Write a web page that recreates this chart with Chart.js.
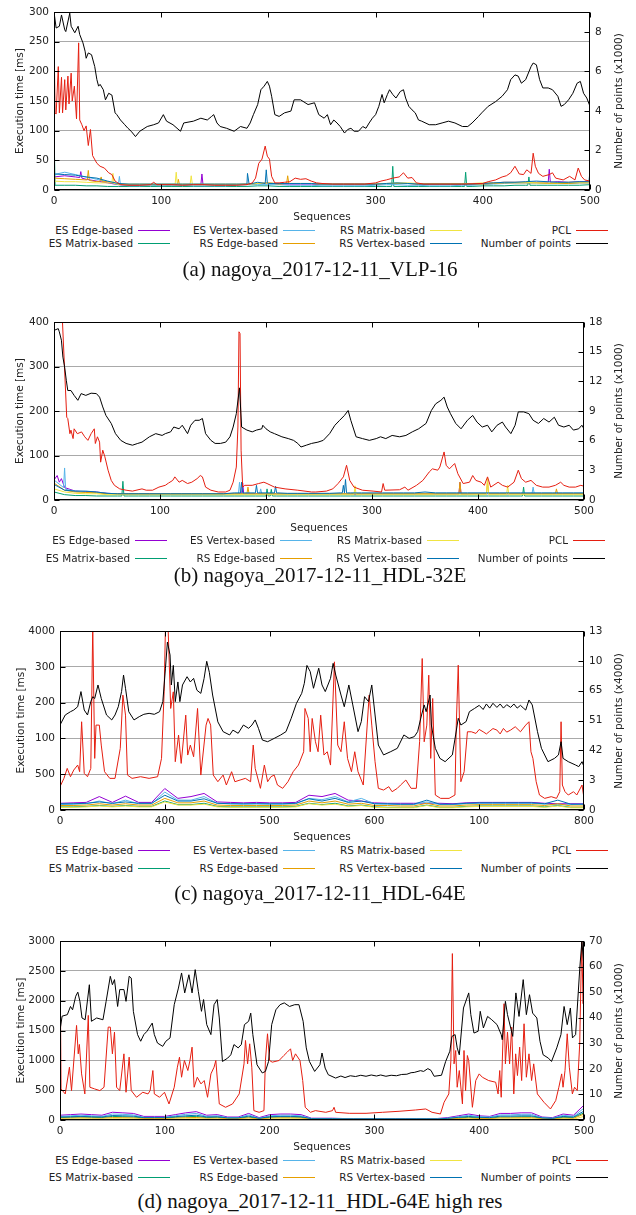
<!DOCTYPE html>
<html>
<head>
<meta charset="utf-8">
<script src="https://cdn.jsdelivr.net/npm/chart.js@4.4.1/dist/chart.umd.min.js"></script>
<style>
  html,body{margin:0;padding:0;background:#fff;}
  body{width:636px;height:1215px;position:relative;overflow:hidden;font-family:"DejaVu Sans",sans-serif;}
  canvas{position:absolute;left:0;}
  .lt{position:absolute;font-size:10.4px;line-height:12px;color:#222;white-space:nowrap;text-align:right;}
  .ls{position:absolute;height:0;width:32px;}
  .cap{position:absolute;left:0;width:640px;text-align:center;font-family:"Liberation Serif",serif;font-size:21px;line-height:24px;color:#111;white-space:nowrap;}
  .rt{position:absolute;font-size:10.5px;line-height:13px;white-space:nowrap;color:#222;transform:translate(-50%,-50%) rotate(-90deg);}
</style>
</head>
<body>
<canvas id="ca" width="636" height="224" style="top:0px"></canvas>
<canvas id="cb" width="636" height="225" style="top:310px"></canvas>
<canvas id="cc" width="636" height="225" style="top:619px"></canvas>
<canvas id="cd" width="636" height="225" style="top:929px"></canvas>
<div id="overlay"></div>
<script>
// ---------------- shared categories ----------------
const seq10 = Array.from({length:51}, (_, i) => i * 10);
const seq20 = Array.from({length:41}, (_, i) => i * 20);

const seriesNames = ['ES Edge-based','ES Matrix-based','ES Vertex-based','RS Edge-based','RS Matrix-based','RS Vertex-based','PCL','Number of points'];

// ---------------- (a) VLP-16 ----------------
const aXTicks = [0,100,200,300,400,500];
const aYTicks = [0,50,100,150,200,250,300];
const aY2Ticks = [0,2,4,6,8];
const aPtsSeq = [0,2,5,7,10,11,14.7,16,19.4,22.5,24,27,29,30,32,35,38,40,41.6,43,46,48,51,54,57,58.6,62,66,69,72,76,80,87,93,97.5,102,105,111,118,121,130,137,143,147,149,152,155,161,168,174,180,183,186,190,193,196,199,201,203,206,210,215,221,224,230,237,243,247,252,255,258,261,264,267,271,274,277,280,284,288,291,294,297,300,303,306,308,311,313,316,319,323,326,328,331,334,337,340,343,350,356,362,368,374,381,386,390,396,399,405,412,418,423,426,430,433,436,440,445,447,450,453,456,461,465,470,473,476,480,484,488,491,494,497,500];
const aPts = [9.00,8.19,8.28,8.85,8.10,8.01,8.94,8.28,7.95,8.28,7.86,7.44,7.02,6.66,6.93,6.84,6.24,5.58,5.25,5.34,5.07,4.56,4.89,4.80,3.90,3.81,3.54,3.30,3.12,2.97,2.70,2.97,3.21,3.30,3.39,3.81,3.48,3.30,2.97,3.39,3.48,3.63,3.54,3.72,3.81,3.39,3.21,3.12,2.97,3.21,3.12,3.39,3.81,4.32,5.07,5.25,5.49,5.25,4.74,3.81,3.72,3.90,3.99,4.56,4.56,4.32,4.41,3.81,3.63,3.81,3.30,3.54,3.39,3.21,2.88,3.06,3.12,2.97,2.97,3.21,3.12,3.39,3.63,3.81,4.23,4.83,4.41,4.83,5.07,4.83,4.65,4.98,5.07,4.65,4.23,4.05,3.90,3.54,3.48,3.30,3.30,3.39,3.48,3.39,3.21,3.21,3.39,3.72,3.90,4.23,4.47,4.74,5.07,5.58,5.82,5.76,5.40,5.58,6.24,6.42,6.33,5.58,5.16,5.16,5.07,4.74,4.23,4.32,4.56,4.89,5.40,5.49,4.89,4.65,4.23];
const aPclSeq = [0,1,2,4,5,7,8,10,11,13,14,16,17,19,21,23,24,26,28,30,32,34,36,40,43,47,51,54,57,62,70,80,90,93,96,100,110,120,130,140,150,160,170,180,185,188,191,194,197,199,201,203,206,210,215,220,225,230,235,240,245,250,260,270,280,290,300,305,310,316,322,326,330,334,338,345,360,380,400,405,412,418,422,426,430,434,438,441,445,447,449,452,456,462,465,468,475,481,486,489,492,495,500];
const aPcl = [265,130,128,208,130,190,130,186,135,192,145,197,150,175,120,248,118,110,100,108,75,102,58,45,40,37,29,26,15,9,8,8,9,13,9,9,9,8,9,9,8,8,8,9,12,20,45,52,74,57,52,23,12,12,13,14,20,18,19,15,12,11,10,10,10,10,12,15,17,20,22,29,20,21,12,10,10,10,11,14,17,22,24,29,40,27,26,34,28,62,40,28,23,26,29,20,17,23,17,37,23,17,15];
// minor series: baseline every 10 sequences + narrow spikes
const aEsEdge = [22,24,22,18,15,12,9,8,8,9, 9,9,9,9,9,9,9,9,10,11, 12,10,10,10,10,9,9,9,9,9, 10,11,11,11,10,10,10,10,10,10, 11,12,13,13,13,13,13,14,13,14, 14];
const aEsEdgeSpkSeq = [24,25,26,137,138,139,461,462,463];
const aEsEdgeSpk = [21,31,20,9,27,9,13,35,13];
const aEsVertex = [26,30,26,22,18,14,9,7,7,8, 7,8,8,7,7,7,7,8,9,9, 9,9,8,8,8,7,7,7,7,7, 8,9,9,8,8,7,7,7,8,8, 9,10,11,12,12,12,11,11,11,12, 12];
const aEsVertexSpkSeq = [61,62];
const aEsVertexSpk = [23,9];
const aRsMatrix = [15,14,14,13,12,12,10,10,10,10, 10,10,10,10,10,10,10,10,10,11, 12,11,11,11,11,10,10,10,10,10, 11,11,12,12,11,11,11,11,11,11, 12,12,13,13,13,12,12,12,13,13, 13];
const aRsMatrixSpkSeq = [54,55,56,113,114,115,127,128,129];
const aRsMatrixSpk = [12,28,11,10,30,10,10,24,10];
const aEsMatrix = [100,8,8,7,7,6,6,6,6,6, 6,6,6,6,6,6,6,6,6,7, 7,6,6,6,6,6,6,6,6,6, 6,6,6,6,6,6,6,6,6,6, 7,7,7,8,8,8,8,8,8,8, 9];
const aEsMatrixSpkSeq = [1,315,316,317,383,384,385,442,443,444];
const aEsMatrixSpk = [8,6,40,6,6,30,6,8,22,8];
const aRsEdge = [20,19,18,17,14,14,10,9,9,9, 9,9,9,9,9,9,9,9,10,11, 12,10,11,11,11,10,10,10,10,10, 10,11,11,11,10,10,10,10,10,10, 10,11,12,12,12,12,11,11,11,12, 12];
const aRsEdgeSpkSeq = [31,32,33,43,44,45,115,116,117,217,218,219];
const aRsEdgeSpk = [17,33,16,15,22,14,9,18,9,11,24,11];
const aRsVertex = [27,26,25,22,20,15,11,10,10,10, 10,10,10,10,10,10,10,10,10,13, 11,11,11,11,11,10,10,10,10,10, 10,11,12,11,10,10,10,10,10,10, 11,12,13,13,14,15,14,13,13,14, 32];
const aRsVertexSpkSeq = [179,180.5,182,197,198,199,499];
const aRsVertexSpk = [10,28,10,11,34,12,14];

// ---------------- (b) HDL-32E ----------------
const bXTicks = [0,100,200,300,400,500];
const bYTicks = [0,100,200,300,400];
const bY2Ticks = [0,3,6,9,12,15,18];
const bPtsSeq = [0,4,5,7,8.4,10,11.6,13,16,19,22.5,25.6,30,35,40,43,46,49,54,58,63,68,74,79,83,90,96,102,105,110,113,118,121,126,129,133,137,140,143,148,152,157,162,166,169,172,175,177,182,187,191,196,197,200,204,208,215,221,226,230,233,238,243,249,254,260,265,269.5,274,277.5,280,285,291,297.5,304,308,313,319,326,332,338,344,351,356,360,365,368,371,374,379,384,390,395,399,404,409,413,418,423,426,431,435,438,443,448,452,457,462,467,472,476,481,486,490,495,498,500];
const bPts = [17.15,17.33,17.01,16.16,14.45,13.46,12.11,11.07,11.07,10.58,10.08,10.76,10.58,10.80,10.76,10.40,9.41,8.55,7.74,6.71,6.03,5.72,5.54,5.72,5.85,6.39,6.71,6.53,6.71,6.89,7.38,7.20,7.56,6.71,7.56,8.06,8.06,8.24,6.71,6.03,5.72,5.72,5.85,6.39,7.38,8.73,11.34,7.38,7.07,6.89,7.07,7.20,7.56,7.20,6.89,6.71,6.39,6.21,6.03,5.72,5.36,5.54,5.72,5.85,6.03,6.71,7.56,8.06,8.55,9.05,8.06,6.39,6.21,6.03,6.21,6.39,6.21,6.53,6.39,6.53,6.89,7.20,7.74,9.05,9.72,10.08,10.40,9.41,8.73,7.74,7.20,8.06,8.55,7.88,7.38,7.56,6.89,7.56,7.88,7.38,6.71,7.56,8.91,8.91,8.73,8.06,7.74,8.24,7.88,8.37,7.56,7.38,7.56,7.07,7.20,7.56,7.20];
const bPclSeq = [0,5,8,12,13,15,16,18,19,22,26,29,32,35,38,39,41,43,44,46,48,51,54,57,62,68,74,83,87,93,99,105,108,112,114,118,121,126,130,135,138,140,143,148,155,162,166,169,172,173.5,174.5,175.5,176.5,178,180,187,193,198,201,208,218,230,243,247,257,263,268,273,276,279,283,291,301,309,310.5,312,326,331,334,342,348,354,357,362,364,368,370,373,378,381,386,392,395,398,403,406,409,412,419,423,428,434,438,441,445,450,455,461,467,473,478,481,486,492,497,500];
const bPcl = [600,600,400,186,183,149,157,138,160,149,153,142,134,149,160,127,142,130,85,112,97,67,44,33,25,22,20,25,22,22,29,33,38,44,52,40,44,37,40,48,55,52,29,22,18,18,22,40,74,164,378,374,112,29,33,33,37,40,37,29,25,22,18,18,20,25,37,52,78,44,29,22,20,18,37,22,23,29,22,33,44,63,70,67,74,108,78,70,82,59,37,40,55,44,40,33,52,29,40,33,29,40,67,48,40,44,33,29,29,33,40,33,29,29,33,31];
const bEsEdge = [45,28,20,19,18,15,14,13,13,13, 13,13,13,13,13,13,13,14,14,14, 13,13,13,13,13,13,13,13,13,13, 13,13,13,13,13,13,13,13,13,13, 14,14,14,14,14,14,14,14,14,14, 14];
const bEsEdgeSpkSeq = [3,5,7,177,178,179,382,383,384];
const bEsEdgeSpk = [55,40,48,14,38,14,13,40,13];
const bEsVertex = [45,72,20,18,17,15,14,14,14,14, 14,14,14,14,14,14,14,14,14,13, 14,14,14,14,14,14,14,14,14,14, 14,14,14,14,14,15,15,15,15,15, 15,15,15,15,15,15,15,15,15,15, 15];
const bEsVertexSpkSeq = [9,11,174,175,176,194,195,196,451,452,453];
const bEsVertexSpk = [28,24,14,40,14,14,25,14,15,29,15];
const bRsMatrix = [25,18,15,14,14,12,12,12,12,12, 12,12,12,12,12,12,12,12,12,12, 12,12,12,12,12,12,12,12,12,12, 12,12,12,12,12,12,12,12,12,12, 12,12,12,12,12,12,12,12,12,12, 12];
const bRsMatrixSpkSeq = [283,284,285,408,409,427,428,429];
const bRsMatrixSpk = [12,32,12,12,50,12,33,12];
const bEsMatrix = [18,12,10,10,9,9,9,9,9,9, 9,9,9,9,9,9,9,9,9,9, 9,9,9,9,9,9,9,9,9,9, 9,9,9,9,9,9,9,9,9,9, 9,9,9,9,9,9,9,9,9,9, 9];
const bEsMatrixSpkSeq = [64,65,66,201,202,204,205,206,442,443,444];
const bEsMatrixSpk = [9,42,9,25,9,9,24,9,9,29,9];
const bRsEdge = [38,22,18,17,16,14,14,14,14,14, 14,14,14,14,14,14,14,14,14,14, 14,14,14,14,14,14,14,14,14,14, 14,14,14,14,14,14,14,14,14,14, 14,14,14,14,14,14,14,14,14,14, 14];
const bRsEdgeSpkSeq = [182,183,184,382,383,384,408,409,473,474,475];
const bRsEdgeSpk = [14,29,14,14,40,14,14,44,14,25,14];
const bRsVertex = [35,22,20,20,18,15,14,14,14,14, 14,14,14,14,14,14,14,16,16,16, 16,16,15,15,15,15,15,16,16,16, 16,16,16,16,16,18,16,16,16,16, 16,16,16,16,16,16,16,16,16,16, 16];
const bRsVertexSpkSeq = [176,177,178,189,191,192,208,209,211,272,273,274,275,276,277];
const bRsVertexSpk = [16,40,16,16,33,16,16,31,16,16,33,16,46,16,16];

// ---------------- (c) HDL-64E (tick labels as printed) ----------------
const cXTicks = [0,160,320,480,640,800];
const cXLabels = ['0','400','500','600','100','800'];
const cYTicks = [0,800,1600,2400,3200,4000];
const cYLabels = ['0','500','100','200','300','4000'];
const cY2Ticks = [0,13/6,26/6,39/6,52/6,65/6,13];
const cY2Labels = ['0','3','42','51','65','10','13'];
const cPtsSeq = [0,8,16,21,27,32,37,42,47,50,53,58,63,71,79,84,89,94,97,100,105,113,121,128,136,144,152,157,161,164,168,170,173,176,180,183,187,194,199,204,209,215,220,224,228,233,241,249,259,264,272,280,288,293,298,303,309,317,327,337,345,353,361,369,373,377,382,387,395,400,405,413,417,421,429,434,441,447,455,460,465,471,476,481,486,494,505,515,525,533,541,546,552,556,559,565,567,573,580,588,599,604,608,612,620,625,633,640,646,651,656,661,667,672,677,682,688,693,698,703,708,711,716,721,729,735,745,755,761,765,768,776,787,792,797,800];
const cPts = [6.17,6.9,7.14,7.26,7.5,8.6,7.26,6.9,7.87,8.23,8.1,9.08,8.1,6.9,6.54,6.9,7.5,8.6,9.8,8.84,7.14,6.54,6.78,6.95,7.02,6.95,7.14,7.87,10.3,12.2,11.26,9.08,10.5,7.87,9.3,7.87,9.08,9.68,9.3,9.56,8.7,8.47,9.56,10.8,10.0,8.35,6.4,5.69,5.45,5.8,5.57,6.17,5.93,6.17,6.54,5.93,5.08,4.96,5.2,5.45,5.69,6.66,7.75,8.47,9.2,10.5,10.05,8.84,10.3,9.08,8.6,9.56,10.65,9.8,8.35,7.5,9.08,7.63,5.69,6.42,8.23,7.87,9.08,6.9,4.72,4.0,4.24,4.48,5.45,5.2,5.33,5.69,6.9,7.63,7.14,8.35,6.17,4.48,3.75,3.51,4.0,5.45,6.66,6.17,6.42,7.14,7.38,7.6,7.3,7.7,7.4,7.75,7.45,7.7,7.4,7.65,7.45,7.7,7.4,7.6,7.38,7.26,7.99,7.63,5.69,4.48,3.51,3.75,4.0,4.96,3.75,3.51,3.27,3.15,3.51,3.15];
const cPclSeq = [0,6,11,16,21,27,30,33,37,42,47,50,53,55,60,63,68,76,84,92,96,100,103,110,123,136,149,155,159,161,165,169,173,176,181,185,192,195,199,204,210,215,223,226,230,234,241,249,254,262,267,275,283,291,295,298,306,312,317,322,327,332,340,348,356,364,372,374,379,382,385,390,394,398,403,408,413,419,424,429,434,439,445,450,455,463,468,472,476,481,486,494,502,507,515,520,528,536,544,549,553,556,560,563,566,569,573,581,594,603,605,608,610,612,617,622,628,635,640,646,651,656,661,667,672,677,682,688,695,703,711,716,719,722,727,732,740,750,758,763,765,767,771,776,784,789,797,800];
const cPcl = [521,707,930,744,893,1004,856,1972,818,744,930,4100,1153,1897,1897,1451,856,707,707,1376,2567,2120,781,707,744,707,744,1153,2641,4100,4100,2269,2641,1079,1674,1041,2120,1228,1451,1190,2269,781,1897,2046,1897,781,632,781,558,856,632,670,707,632,1451,930,484,1004,632,744,781,558,484,632,856,1004,1302,2269,2046,1302,2046,1525,1302,2120,1228,1302,1004,3311,1451,1302,1972,1153,856,1302,856,558,1674,2567,1897,1079,484,446,521,409,484,558,670,484,484,1525,3385,1525,1897,3013,1153,2492,335,260,260,335,1897,3236,1897,632,856,1748,1748,1711,1800,1748,1700,1760,1820,1786,1700,1823,1740,1786,1860,1748,1897,1972,1302,1153,632,335,260,298,260,409,1972,558,409,335,409,335,558,260];
const cEsEdge = [150,160,170,300,170,310,170,170,480,260,300,370,180,170,160,170,160,160,170,330,300,370,220,200,160,150,150,150,150,150,140,160,170,170,170,170,170,150,140,140,140];
const cEsVertex = [120,130,140,200,140,220,140,140,400,220,220,300,150,140,130,140,130,130,140,260,230,300,180,260,140,130,120,120,180,120,120,140,150,150,150,150,150,130,120,120,130];
const cRsVertex = [140,140,150,180,150,180,150,150,330,200,200,250,150,140,140,140,140,140,150,250,200,260,170,200,140,140,130,130,220,130,130,150,160,160,160,160,160,140,220,130,130];
const cRsEdge = [100,100,110,140,110,140,110,110,260,160,160,200,110,100,100,100,100,100,110,200,160,200,130,150,100,100,90,90,150,90,90,110,120,120,120,120,120,100,140,90,90];
const cEsMatrix = [70,70,80,100,80,100,80,80,200,120,120,150,80,70,70,70,70,70,80,150,120,150,90,110,70,60,60,60,110,60,60,80,90,90,90,90,90,70,100,60,60];
const cRsMatrix = [60,60,70,90,70,90,70,70,180,110,110,130,70,60,60,60,60,60,70,140,110,130,80,100,60,50,50,50,100,50,50,70,80,80,80,80,80,60,90,50,50];

// ---------------- (d) HDL-64E high res ----------------
const dXTicks = [0,100,200,300,400,500];
const dYTicks = [0,500,1000,1500,2000,2500,3000];
const dY2Ticks = [0,10,20,30,40,50,60,70];
const dPtsSeq = [0,2,7,10,12,15,17,19,21,24,28,30,35,41,44,48,50,52,55,57,61,63,66,68,70,74,77,80,83,88,90,93,98,101,105,109,113,116,119,123,126,129,132,135,137,140,144,147,150,152,155,160,163,166,170,173,176,180,182,184,188,193,196,199,202,206,210,214,219,224,228,232,235,238,243,248,250,253,256,263,268,272,277,282,287,292,297,302,306,311,316,321,326,331,335,338,344,347,351,354,357,364,368,372,374,377,379,381,385,390,392,395,399,401,404,408,412,417,421,422,425,427,432,435,438,442,445,448,451,455,458,461,466,469,474,478,481,484,487,489,492,496,498,500];
const dPts = [35.0,40.6,41.2,44.4,43.1,48.4,50.0,46.4,39.9,39.2,52.9,38.6,39.9,39.2,46.4,56.2,52.9,54.9,44.4,51.0,51.0,46.4,56.2,55.5,42.5,33.4,30.8,33.4,34.7,37.9,33.4,30.1,28.8,30.8,32.1,45.1,51.6,57.5,49.7,56.8,49.7,58.8,50.3,42.5,47.1,37.3,33.4,45.1,47.1,39.9,22.9,24.2,25.5,29.5,28.2,29.5,37.3,38.6,41.8,33.4,21.6,18.4,19.0,22.9,37.3,43.1,45.1,45.8,44.4,45.1,45.1,38.6,28.2,22.9,19.0,21.6,26.2,20.3,17.7,16.4,17.2,16.6,17.3,17.0,17.5,17.1,17.6,17.2,17.6,17.1,17.5,17.3,17.8,17.9,18.5,18.6,19.3,19.0,20.1,19.4,17.1,17.5,22.9,26.9,32.7,33.4,28.2,25.5,43.8,49.7,41.2,34.0,34.7,42.5,36.0,40.5,39.2,37.3,33.4,31.4,46.4,41.2,32.7,49.7,40.5,54.9,41.2,49.0,41.8,39.9,30.8,25.5,24.2,22.9,28.2,33.4,44.4,37.3,43.8,32.1,33.4,59.5,69.9,59.5];
const dPclSeq = [0,1,5,9,11,15.8,17.4,18.5,20.6,23.7,27,28.5,33,38,42,46,48,50,52,54,57,61,63,66,68,73,79,84,86,88.6,90,95,99.7,104,109,112,114,116,118.7,122,124,126,128,131,134.5,137.6,140.8,144,147,148.7,152,158,164.6,171,175.6,177,179,181,183,185,190,194.6,196,198,200,202.5,209,213.6,216.8,220,222,224.7,229,231.6,234,239,243.7,253.6,260,261.5,263,276,292,307.6,323.5,339.4,349,355,363,366.5,371,373,374.4,376,377.6,379,381,384,385.5,387,388.7,390,393.5,396.7,400,403,409,415.7,418,419.6,421,423.7,425,427,429,431,433,434.8,436.5,438.6,440.5,442.8,445,447.5,450,452,455.5,461.8,468,473,476,478.7,480,481.9,484,486,488.9,491,493.6,495.9,497.8,499.2,500];
const dPcl = [3000,521,437,885,493,1585,1109,1266,773,437,1753,549,521,493,549,1557,1557,1109,1473,549,493,1109,465,1053,493,381,465,437,493,829,437,381,465,269,549,885,1053,717,997,829,997,1221,549,717,605,661,381,773,885,997,269,213,269,437,941,1333,941,1277,885,157,129,157,997,1445,997,969,997,1081,1137,1193,997,1109,997,661,213,129,157,129,157,213,129,112,112,129,146,168,185,129,101,297,437,997,2789,941,1165,549,829,269,1165,493,1081,997,213,661,773,717,661,633,437,829,381,1949,941,1473,941,1557,437,1109,745,1221,661,1613,717,1109,661,941,437,297,185,325,549,773,549,829,1445,885,437,549,493,1277,3000,1949,3000];
const dEsEdge = [80,90,100,90,80,130,120,110,60,60, 60,90,120,140,80,90,50,50,110,40, 90,100,100,90,30,30,30,25,25,25, 25,25,25,25,25,25,25,40,70,100, 70,60,110,110,120,120,50,40,100,80, 250];
const dEsVertex = [60,70,80,70,60,100,95,85,45,45, 45,70,95,110,60,70,40,40,85,30, 70,80,80,70,25,25,25,20,20,20, 20,20,20,20,20,20,20,30,55,80, 55,50,85,85,95,95,40,30,80,60, 200];
const dRsVertex = [50,55,60,55,50,75,70,65,40,40, 40,55,70,80,50,55,35,35,65,28, 55,60,60,55,22,22,22,18,18,18, 18,18,18,18,18,18,18,28,45,60, 45,40,65,65,70,70,35,28,60,50, 150];
const dEsMatrix = [40,45,50,45,40,60,55,50,35,35, 35,45,55,60,40,45,30,30,50,25, 45,50,50,45,20,20,20,15,15,15, 15,15,15,15,15,15,15,25,35,45, 35,30,50,50,55,55,30,25,45,40, 120];
const dRsEdge = [30,32,35,32,30,40,38,35,25,25, 25,32,38,42,30,32,22,22,35,18, 32,35,35,32,14,14,14,12,12,12, 12,12,12,12,12,12,12,18,25,32, 25,22,35,35,38,38,22,18,32,28, 100];
const dRsMatrix = [15,16,18,16,15,22,20,18,12,12, 12,16,20,22,15,16,10,10,18,8, 16,18,18,16,6,6,6,5,5,5, 5,5,5,5,5,5,5,8,12,16, 12,10,18,18,20,20,10,8,16,14, 60];

// ---------------- styling ----------------
const COL = {esEdge:'#9400D3', esMatrix:'#009E73', esVertex:'#56B4E9', rsEdge:'#E69F00', rsMatrix:'#F0E442', rsVertex:'#0072B2', pcl:'#E51E10', pts:'#000000'};
const FONT = {family:'DejaVu Sans', size:10.5};
const TXT = '#222';

function ds(label, xs, ys, color, axis, order, exs, eys) {
  let pts = xs.map((x, i) => ({x, y: ys[i]}));
  if (exs) {
    pts = pts.concat(exs.map((x, i) => ({x, y: eys[i]})));
    pts.sort((p, q) => p.x - q.x);
  }
  return {label, data: pts, borderColor: color, backgroundColor: color,
    borderWidth: 1, pointRadius: 0, tension: 0, fill: false, yAxisID: axis, order};
}

const framePlugin = {
  id: 'frame',
  afterDatasetsDraw(chart) {
    const {ctx, chartArea: a, scales} = chart;
    const L = Math.round(a.left) + 0.5, R = Math.round(a.right) - 0.5;
    const T = Math.round(a.top) + 0.5, B = Math.round(a.bottom) - 0.5;
    const tl = 5;
    ctx.save();
    ctx.strokeStyle = '#000';
    ctx.lineWidth = 1;
    ctx.beginPath();
    scales.x.ticks.forEach(t => {
      const p = Math.round(scales.x.getPixelForValue(t.value)) + 0.5;
      ctx.moveTo(p, B); ctx.lineTo(p, B - tl);
      ctx.moveTo(p, T); ctx.lineTo(p, T + tl);
    });
    scales.y.ticks.forEach(t => {
      const p = Math.round(scales.y.getPixelForValue(t.value)) + 0.5;
      ctx.moveTo(L, p); ctx.lineTo(L + tl, p);
    });
    scales.y1.ticks.forEach(t => {
      const p = Math.round(scales.y1.getPixelForValue(t.value)) + 0.5;
      ctx.moveTo(R, p); ctx.lineTo(R - tl, p);
    });
    ctx.stroke();
    ctx.strokeRect(L, T, R - L, B - T);
    ctx.restore();
  }
};

function build(id, g, s) {
  new Chart(document.getElementById(id), {
    type: 'line',
    data: {datasets: s.datasets},
    options: {
      responsive: false, animation: false, devicePixelRatio: 1,
      layout: {padding: {top: g.padTop, left: 0, right: 0, bottom: 0}},
      plugins: {legend: {display: false}, tooltip: {enabled: false}},
      scales: {
        x: {type: 'linear', position: 'bottom', min: s.xMin, max: s.xMax,
          afterBuildTicks: sc => { sc.ticks = s.xTicks.map(v => ({value: v})); },
          afterFit: sc => { sc.height = g.xH; },
          ticks: {font: FONT, color: TXT, padding: 5, maxRotation: 0, autoSkip: false,
            callback: (v, i) => s.xLabels ? s.xLabels[i] : String(s.xTicks[i])},
          grid: {display: false, drawTicks: false}, border: {display: false},
          title: {display: true, text: 'Sequences', font: FONT, color: TXT, padding: 0}},
        y: {type: 'linear', position: 'left', min: s.yMin, max: s.yMax,
          afterBuildTicks: sc => { sc.ticks = s.yTicks.map(v => ({value: v})); },
          afterFit: sc => { sc.width = g.L; },
          ticks: {font: FONT, color: TXT, padding: 5, autoSkip: false,
            callback: (v, i) => s.yLabels ? s.yLabels[i] : String(s.yTicks[i])},
          grid: {display: true, drawTicks: false, color: '#a9a9a9', lineWidth: 1}, border: {display: false},
          title: {display: true, text: 'Execution time [ms]', font: FONT, color: TXT, padding: {top: g.tPad, bottom: 0}}},
        y1: {type: 'linear', position: 'right', min: 0, max: s.y2Max,
          afterBuildTicks: sc => { sc.ticks = s.y2Ticks.map(v => ({value: v})); },
          afterFit: sc => { sc.width = 636 - g.R; },
          ticks: {font: FONT, color: TXT, padding: 5, autoSkip: false,
            callback: (v, i) => s.y2Labels ? s.y2Labels[i] : String(s.y2Ticks[i])},
          grid: {display: false, drawTicks: false}, border: {display: false}}
      }
    },
    plugins: [framePlugin]
  });
}

// m: minor series {key: [values, spikeSeq, spikeVals]}
function sets(seqMinor, m, pclSeq, pcl, ptsSeq, pts) {
  const mk = (name, key, color, order) => ds(name, seqMinor, m[key][0], color, 'y', order, m[key][1], m[key][2]);
  return [
    mk(seriesNames[0], 'esEdge', COL.esEdge, 7),
    mk(seriesNames[1], 'esMatrix', COL.esMatrix, 6),
    mk(seriesNames[2], 'esVertex', COL.esVertex, 5),
    mk(seriesNames[3], 'rsEdge', COL.rsEdge, 4),
    mk(seriesNames[4], 'rsMatrix', COL.rsMatrix, 3),
    mk(seriesNames[5], 'rsVertex', COL.rsVertex, 2),
    ds(seriesNames[6], pclSeq, pcl, COL.pcl, 'y', 1),
    ds(seriesNames[7], ptsSeq, pts, COL.pts, 'y1', 0)
  ];
}

build('ca', {L: 54, R: 590, padTop: 12, xH: 34, tPad: 13.7}, {
  xMin: 0, xMax: 500, xTicks: aXTicks, yMin: 0, yMax: 300, yTicks: aYTicks, y2Max: 9, y2Ticks: aY2Ticks,
  datasets: sets(seq10, {
    esEdge: [aEsEdge, aEsEdgeSpkSeq, aEsEdgeSpk], esMatrix: [aEsMatrix, aEsMatrixSpkSeq, aEsMatrixSpk],
    esVertex: [aEsVertex, aEsVertexSpkSeq, aEsVertexSpk], rsEdge: [aRsEdge, aRsEdgeSpkSeq, aRsEdgeSpk],
    rsMatrix: [aRsMatrix, aRsMatrixSpkSeq, aRsMatrixSpk], rsVertex: [aRsVertex, aRsVertexSpkSeq, aRsVertexSpk]
  }, aPclSeq, aPcl, aPtsSeq, aPts)
});
build('cb', {L: 54, R: 584, padTop: 12, xH: 35, tPad: 13.7}, {
  xMin: 0, xMax: 500, xTicks: bXTicks, yMin: 0, yMax: 400, yTicks: bYTicks, y2Max: 18, y2Ticks: bY2Ticks,
  datasets: sets(seq10, {
    esEdge: [bEsEdge, bEsEdgeSpkSeq, bEsEdgeSpk], esMatrix: [bEsMatrix, bEsMatrixSpkSeq, bEsMatrixSpk],
    esVertex: [bEsVertex, bEsVertexSpkSeq, bEsVertexSpk], rsEdge: [bRsEdge, bRsEdgeSpkSeq, bRsEdgeSpk],
    rsMatrix: [bRsMatrix, bRsMatrixSpkSeq, bRsMatrixSpk], rsVertex: [bRsVertex, bRsVertexSpkSeq, bRsVertexSpk]
  }, bPclSeq, bPcl, bPtsSeq, bPts)
});
build('cc', {L: 60, R: 584, padTop: 12, xH: 34, tPad: 14.7}, {
  xMin: 0, xMax: 800, xTicks: cXTicks, xLabels: cXLabels, yMin: 0, yMax: 4000, yTicks: cYTicks, yLabels: cYLabels,
  y2Max: 13, y2Ticks: cY2Ticks, y2Labels: cY2Labels,
  datasets: sets(seq20, {
    esEdge: [cEsEdge], esMatrix: [cEsMatrix], esVertex: [cEsVertex],
    rsEdge: [cRsEdge], rsMatrix: [cRsMatrix], rsVertex: [cRsVertex]
  }, cPclSeq, cPcl, cPtsSeq, cPts)
});
build('cd', {L: 60, R: 584, padTop: 12, xH: 34, tPad: 14.7}, {
  xMin: 0, xMax: 500, xTicks: dXTicks, yMin: 0, yMax: 3000, yTicks: dYTicks, y2Max: 70, y2Ticks: dY2Ticks,
  datasets: sets(seq10, {
    esEdge: [dEsEdge], esMatrix: [dEsMatrix], esVertex: [dEsVertex],
    rsEdge: [dRsEdge], rsMatrix: [dRsMatrix], rsVertex: [dRsVertex]
  }, dPclSeq, dPcl, dPtsSeq, dPts)
});

// ---------------- HTML legends, right-axis titles, captions ----------------
const overlay = document.getElementById('overlay');
const legendRows = [
  [['ES Edge-based', COL.esEdge], ['ES Vertex-based', COL.esVertex], ['RS Matrix-based', COL.rsMatrix], ['PCL', COL.pcl]],
  [['ES Matrix-based', COL.esMatrix], ['RS Edge-based', COL.rsEdge], ['RS Vertex-based', COL.rsVertex], ['Number of points', COL.pts]]
];
const colEnds = [133, 278, 425, 571];
function legend(rowYs, dx) {
  legendRows.forEach((row, r) => {
    row.forEach(([label, color], c) => {
      const end = colEnds[c] + dx;
      const t = document.createElement('div');
      t.className = 'lt';
      t.textContent = label;
      t.style.right = (636 - end) + 'px';
      t.style.top = (rowYs[r] - 7) + 'px';
      overlay.appendChild(t);
      const l = document.createElement('div');
      l.className = 'ls';
      l.style.left = (end + 5) + 'px';
      l.style.top = (rowYs[r] - 0.75) + 'px';
      l.style.borderTop = '1.5px solid ' + color;
      overlay.appendChild(l);
    });
  });
}
function rtitle(text, cy) {
  const d = document.createElement('div');
  d.className = 'rt';
  d.textContent = text;
  d.style.left = '618px';
  d.style.top = cy + 'px';
  overlay.appendChild(d);
}
function caption(text, cy) {
  const d = document.createElement('div');
  d.className = 'cap';
  d.textContent = text;
  d.style.top = (cy - 14) + 'px';
  overlay.appendChild(d);
}
legend([231, 244], 0);
legend([541, 559], -3);
legend([851, 869], 0);
legend([1161, 1178], 0);
rtitle('Number of points (x1000)', 101);
rtitle('Number of points (x1000)', 411);
rtitle('Number of points (x4000)', 720.5);
rtitle('Number of points (x1000)', 1030.5);
caption('(a) nagoya_2017-12-11_VLP-16', 271);
caption('(b) nagoya_2017-12-11_HDL-32E', 577);
caption('(c) nagoya_2017-12-11_HDL-64E', 895);
caption('(d) nagoya_2017-12-11_HDL-64E high res', 1203);
</script>
</body>
</html>
